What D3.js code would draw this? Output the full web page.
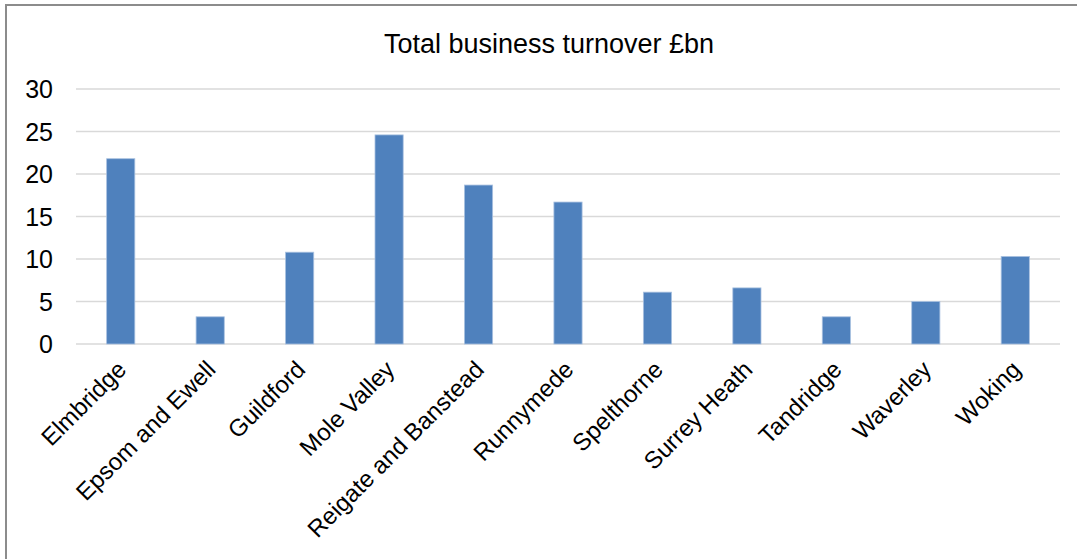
<!DOCTYPE html>
<html>
<head>
<meta charset="utf-8">
<script src="https://cdn.jsdelivr.net/npm/d3@7"></script>
<style>
  body { margin: 0; background: #fff; }
  svg { display: block; font-family: Arial, "Liberation Sans", sans-serif; }
</style>
</head>
<body>
<svg width="1077" height="559"></svg>
<script>
// chart data
const districts = ['Elmbridge', 'Epsom and Ewell', 'Guildford', 'Mole Valley', 'Reigate and Banstead',
  'Runnymede', 'Spelthorne', 'Surrey Heath', 'Tandridge', 'Waverley', 'Woking'];
const turnover = [21.8, 3.2, 10.8, 24.6, 18.7, 16.7, 6.1, 6.6, 3.2, 5.0, 10.3];
const yTicks = [0, 5, 10, 15, 20, 25, 30];

const svg = d3.select('svg');
const margin = { left: 76, right: 17, top: 89, bottom: 215 };
const W = 1077, H = 559;

// outer frame
svg.append('rect')
  .attr('x', 6).attr('y', 5)
  .attr('width', W + 10).attr('height', H + 10)
  .attr('fill', 'none')
  .attr('stroke', '#8c8c8c')
  .attr('stroke-width', 2);

const x = d3.scaleBand()
  .domain(districts)
  .range([margin.left, W - margin.right])
  .paddingInner(0.685)
  .paddingOuter(0.3425);

const y = d3.scaleLinear()
  .domain([0, 30])
  .range([344, 89]);

// gridlines
svg.append('g')
  .selectAll('line')
  .data(yTicks)
  .join('line')
  .attr('x1', margin.left)
  .attr('x2', W - margin.right)
  .attr('y1', d => y(d))
  .attr('y2', d => y(d))
  .attr('stroke', '#d9d9d9')
  .attr('stroke-width', 1.5);

// y tick labels
svg.append('g')
  .selectAll('text')
  .data(yTicks)
  .join('text')
  .attr('x', 53)
  .attr('y', d => y(d))
  .attr('dy', '0.36em')
  .attr('text-anchor', 'end')
  .style('font-size', '25px')
  .attr('fill', '#000')
  .text(d => d);

// bars
svg.append('g')
  .selectAll('rect')
  .data(turnover)
  .join('rect')
  .attr('x', (d, i) => x(districts[i]))
  .attr('y', d => y(d))
  .attr('width', x.bandwidth())
  .attr('height', d => y(0) - y(d))
  .attr('fill', '#4f81bd')
  .attr('stroke', '#a9c1e0')
  .attr('stroke-width', 0.8);

// category labels
svg.append('g')
  .selectAll('text')
  .data(districts)
  .join('text')
  .attr('transform', d => `translate(${x(d) + x.bandwidth() / 2 + 1}, 365) rotate(-45)`)
  .attr('text-anchor', 'end')
  .attr('dy', '0.35em')
  .style('font-size', '24px')
  .attr('fill', '#000')
  .text(d => d);

// title
svg.append('text')
  .attr('x', 549)
  .attr('y', 53)
  .attr('text-anchor', 'middle')
  .style('font-size', '27px')
  .attr('fill', '#000')
  .text('Total business turnover £bn');
</script>
</body>
</html>
